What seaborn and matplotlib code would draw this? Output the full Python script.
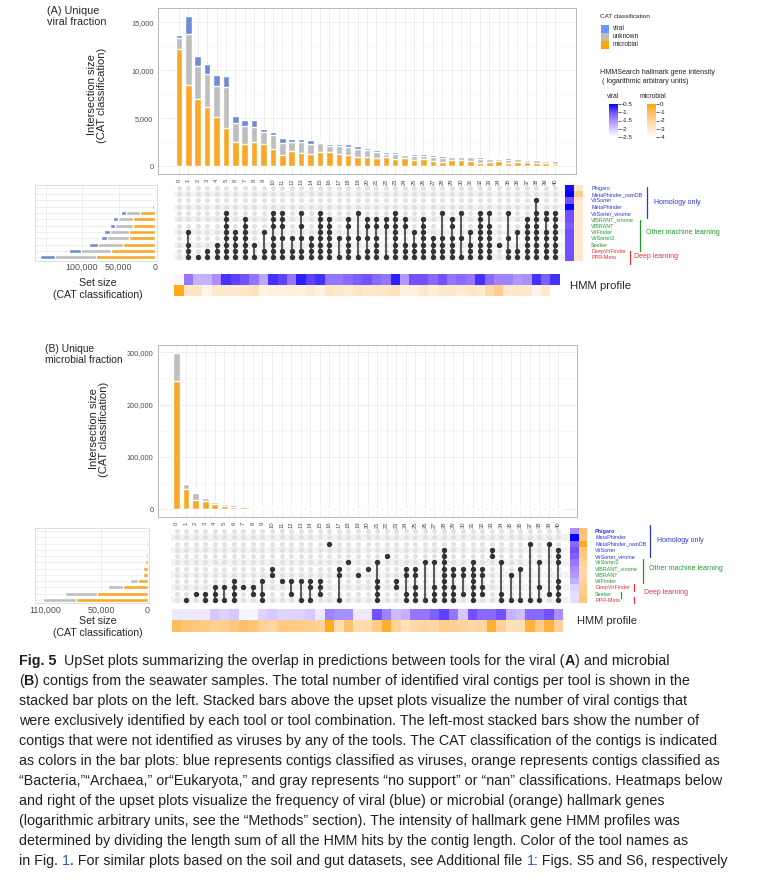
import matplotlib
matplotlib.use("Agg")
import matplotlib.pyplot as plt
import seaborn as sns
import numpy as np
import pandas as pd
from matplotlib import font_manager
from matplotlib.colors import LinearSegmentedColormap, Normalize
from matplotlib.cm import ScalarMappable
from matplotlib.patches import Rectangle
from matplotlib.lines import Line2D

# ---------------- data ----------------
intersections = list(range(41))

# Panel A: unique viral fraction (intersection sizes by CAT classification)
a_microbial = [12208, 8493, 7006, 6193, 5131, 3999, 2583, 2371, 2548, 2371, 1769, 1203, 1592, 1415,
               1345, 1451, 1451, 1345, 1168, 991, 1026, 885, 955, 814, 849, 708, 778, 566, 495, 672,
               672, 566, 389, 495, 531, 389, 460, 425, 318, 354, 283]
a_unknown = [1168, 5272, 3433, 3432, 3185, 4211, 1911, 1875, 1592, 1168, 1451, 1274, 920, 1168,
             955, 955, 672, 743, 849, 849, 637, 637, 390, 460, 319, 424, 354, 389, 425, 319,
             319, 389, 389, 283, 212, 319, 283, 212, 319, 212, 283]
a_viral = [248, 1911, 1061, 1061, 1167, 1167, 778, 566, 637, 353, 354, 495, 354, 283,
           495, 177, 248, 283, 283, 248, 248, 212, 141, 212, 177, 142, 142, 248, 212, 141,
           141, 177, 177, 142, 142, 141, 71, 141, 106, 142, 142]

tools_a = ["Phigaro", "MetaPhinder_ownDB", "VirSorter", "MetaPhinder", "VirSorter_virome",
           "VIBRANT_virome", "VIBRANT", "VirFinder", "VirSorter2", "Seeker", "DeepVirFinder", "PPR-Meta"]
groups_a = ["homology"] * 5 + ["ml"] * 5 + ["dl"] * 2
set_a_microbial = [300, 900, 800, 300, 21000, 29500, 30500, 35000, 35000, 43800, 60500, 81000]
set_a_unknown = [200, 100, 300, 800, 19000, 21400, 23800, 26700, 31400, 34300, 41400, 55700]
set_a_viral = [100, 100, 200, 2500, 6000, 7100, 7100, 8000, 8000, 12400, 15700, 20500]

a_members = [
    [], [7, 9, 10, 11], [11], [10, 11], [9, 10, 11], [4, 5, 6, 7, 8, 9, 10, 11], [7, 8, 9, 10, 11],
    [5, 6, 7, 8, 9, 10, 11], [9, 11], [7, 10, 11], [4, 5, 6, 8, 9, 10, 11], [4, 5, 6, 8, 10, 11],
    [8, 10, 11], [4, 6, 8, 10, 11], [8, 9, 10, 11], [4, 5, 6, 7, 8, 9, 10, 11], [5, 6, 7, 8, 9, 10, 11],
    [8, 11], [5, 6, 8, 9, 10, 11], [4, 8, 11], [5, 6, 8, 10, 11], [5, 6, 8, 9, 10, 11], [5, 6, 11],
    [4, 5, 6, 7, 8, 9, 10, 11], [5, 6, 9, 10, 11], [7, 9, 10, 11], [5, 6, 7, 8, 9, 10, 11],
    [8, 9, 10, 11], [4, 8, 9, 10, 11], [5, 6, 8, 9, 10, 11], [4, 8, 11], [7, 9, 10, 11],
    [4, 5, 6, 7, 8, 9, 10, 11], [4, 6, 7, 8, 9, 10, 11], [9], [4, 8, 10, 11], [7, 10, 11],
    [5, 6, 7, 8, 9, 10, 11], [2, 4, 5, 6, 7, 8, 9, 10, 11], [4, 5, 7, 8, 9, 10, 11],
    [4, 5, 6, 7, 8, 9, 10, 11]]

a_hmm_viral = [-2.4, -1.3, -1.8, -1.8, -1.5, -0.8, -0.9, -1.0, -1.3, -1.7, -0.8, -0.9, -1.3, -0.7,
               -0.9, -0.8, -1.3, -1.3, -1.2, -1.1, -1.0, -1.2, -1.3, -0.7, -1.6, -1.0, -1.0, -1.2,
               -1.0, -1.3, -1.2, -1.3, -0.8, -1.2, -1.4, -1.4, -1.6, -1.5, -0.8, -1.1, -0.8]
a_hmm_microbial = [-0.3, -2.8, -2.8, -3.5, -2.9, -3.0, -3.0, -2.9, -2.7, -3.5, -3.3, -3.3, -3.2, -3.3,
                   -3.1, -3.4, -2.8, -3.0, -3.1, -2.8, -3.0, -2.9, -2.8, -2.7, -3.4, -3.3, -2.9, -3.2,
                   -3.0, -2.9, -3.1, -2.9, -3.0, -2.3, -1.8, -3.0, -2.9, -3.0, -3.6, -3.0, -4.0]
a_tool_hmm_viral = [-0.6, -0.5, -1.0, -0.5, -1.0, -1.0, -1.1, -1.0, -1.0, -1.0, -1.0, -1.0]
a_tool_hmm_microbial = [-3.0, -1.8, -3.0, -3.0, -3.0, -3.0, -3.0, -3.0, -3.0, -3.0, -3.0, -3.0]

# Panel B: unique microbial fraction
b_microbial = [245000, 38000, 18000, 15000, 10000, 6500, 5000, 4000, 2500, 1800, 1600, 1500, 1300,
               1200, 1100, 1000, 900, 800, 700, 600, 550, 500, 480, 450, 420, 400, 380, 360, 340,
               320, 300, 280, 260, 240, 220, 200, 180, 160, 150, 140, 130]
b_unknown = [54000, 11000, 13000, 7000, 4500, 2500, 3000, 2000, 1500, 700, 500, 400, 400, 300,
             300, 250, 200, 200, 150, 150, 120, 100, 100, 90, 90, 80, 80, 70, 70, 60, 60, 50, 50,
             50, 40, 40, 40, 30, 30, 30, 30]
b_viral = [300, 50, 50, 50, 0, 0, 0, 0, 0, 0, 0, 0, 0, 0, 0, 0, 0, 0, 0, 0, 0, 0, 0, 0, 0, 0, 0,
           0, 0, 0, 0, 0, 0, 0, 0, 0, 0, 0, 0, 0, 0]

tools_b = ["Phigaro", "MetaPhinder", "MetaPhinder_ownDB", "VirSorter", "VirSorter_virome",
           "VirSorter2", "VIBRANT_virome", "VIBRANT", "VirFinder", "DeepVirFinder", "Seeker", "PPR-Meta"]
groups_b = ["homology"] * 5 + ["ml"] * 4 + ["dl", "ml", "dl"]
set_b_microbial = [140, 235, 1220, 940, 1880, 2820, 4420, 4420, 10700, 25900, 54000, 77100]
set_b_unknown = [47, 47, 280, 190, 380, 850, 1880, 1880, 8460, 16600, 34400, 35200]
set_b_viral = [0, 28, 0, 47, 47, 47, 47, 47, 94, 750, 1130, 1130]

b_members = [
    [], [11], [10], [10, 11], [9, 10, 11], [9, 11], [8, 9, 10, 11], [9], [9, 10], [8, 10, 11],
    [6, 7], [8], [8, 10], [8, 11], [8, 9, 11], [8, 9, 10], [2], [6, 7, 11], [5], [7], [6],
    [5, 8, 9, 10, 11], [4], [8, 9], [6, 7, 10, 11], [6, 7, 9, 10, 11], [5, 11], [5, 9, 10, 11],
    [3, 4, 5, 6, 7, 8, 9, 10, 11], [6, 7, 9, 10, 11], [6, 7, 10], [5, 6, 7, 8, 9, 10, 11],
    [6, 7, 9, 10], [3, 4], [5, 10, 11], [7, 11], [6, 11], [2, 11], [5, 9, 11], [2, 10],
    [3, 4, 5, 8, 9, 10, 11]]

b_hmm_viral = [-2.3, -2.3, -2.3, -2.3, -2.0, -2.1, -2.0, -2.4, -2.4, -2.1, -2.0, -2.1, -2.1, -2.1,
               -2.0, -2.3, -1.4, -1.5, -1.5, -2.3, -2.3, -1.0, -1.4, -1.9, -1.8, -1.3, -1.3, -1.1,
               -0.9, -1.3, -2.0, -1.0, -1.2, -1.2, -1.0, -1.8, -1.9, -1.2, -1.2, -1.0, -1.5]
b_hmm_microbial = [-1.0, -1.4, -1.5, -1.6, -1.9, -1.8, -1.5, -1.2, -1.4, -1.9, -2.2, -1.6, -1.6, -1.7,
                   -1.8, -2.0, -0.3, -2.4, -1.3, -2.4, -2.3, -1.7, -0.5, -2.0, -2.6, -2.2, -2.1, -2.2,
                   -1.8, -1.9, -2.0, -2.2, -2.1, -0.5, -1.9, -2.6, -2.5, -0.6, -1.7, -0.6, -1.9]
b_tool_hmm_viral = [-1.5, -0.5, -1.2, -1.0, -1.1, -1.3, -1.5, -1.6, -1.8, -2.1, -2.2, -2.2]
b_tool_hmm_microbial = [-1.2, -1.5, -0.3, -1.5, -1.6, -1.9, -2.2, -2.2, -2.0, -1.8, -1.6, -1.4]

cat_labels = ["viral", "unknown", "microbial"]
viral_ticks = [-0.5, -1, -1.5, -2, -2.5]
microbial_ticks = [0, -1, -2, -3, -4]

caption_lines = [
    [("Fig. 5", "b"), ("  UpSet plots summarizing the overlap in predictions between tools for the viral (", "n"),
     ("A", "b"), (") and microbial", "n")],
    [("(", "n"), ("B", "b"), (") contigs from the seawater samples. The total number of identified viral contigs per tool is shown in the", "n")],
    [("stacked bar plots on the left. Stacked bars above the upset plots visualize the number of viral contigs that", "n")],
    [("were exclusively identified by each tool or tool combination. The left-most stacked bars show the number of", "n")],
    [("contigs that were not identified as viruses by any of the tools. The CAT classification of the contigs is indicated", "n")],
    [("as colors in the bar plots: blue represents contigs classified as viruses, orange represents contigs classified as", "n")],
    [("\u201cBacteria,\u201d\u201cArchaea,\u201d or\u201cEukaryota,\u201d and gray represents \u201cno support\u201d or \u201cnan\u201d classifications. Heatmaps below", "n")],
    [("and right of the upset plots visualize the frequency of viral (blue) or microbial (orange) hallmark genes", "n")],
    [("(logarithmic arbitrary units, see the \u201cMethods\u201d section). The intensity of hallmark gene HMM profiles was", "n")],
    [("determined by dividing the length sum of all the HMM hits by the contig length. Color of the tool names as", "n")],
    [("in Fig. ", "n"), ("1", "link"), (". For similar plots based on the soil and gut datasets, see Additional file ", "n"),
     ("1", "link"), (": Figs. S5 and S6, respectively", "n")],
]

# ---------------- style ----------------
sns.set_theme(style="white")
plt.rcParams['font.family'] = ['Liberation Sans', 'DejaVu Sans']

C_VIR, C_UNK, C_MIC = "#6C8DD5", "#BEBEBE", "#F6A826"
L_VIR, L_UNK, L_MIC = "#6E93FF", "#BEBEBE", "#FFA500"
GRID = "#EBEBEB"
FRAME = "#B8B8B8"
TXT = "#4D4D4D"
GROUP_COL = {"homology": "#2B35D8", "ml": "#1E9A2A", "dl": "#E5323A"}

cmap_v = LinearSegmentedColormap.from_list("v", ["#FFFFFF", "#D6C8FF", "#A98EFF", "#7452FF", "#0000FF"])
cmap_m = LinearSegmentedColormap.from_list("m", ["#FFFFFF", "#FFE9CC", "#FFD39A", "#FFBC5E", "#FFA500"])
VMIN_V, VMAX_V = -2.5, -0.5
VMIN_M, VMAX_M = -4.0, 0.0

W, H = 762, 882
fig = plt.figure(figsize=(W / 100, H / 100), dpi=100)
fig.patch.set_facecolor("white")


def add_ax(x0, y0, x1, y1):
    return fig.add_axes([x0 / W, 1 - y1 / H, (x1 - x0) / W, (y1 - y0) / H])


def ftext(x, y, s, **kw):
    return fig.text(x / W, 1 - y / H, s, **kw)


def fline(x0, y0, x1, y1, **kw):
    fig.add_artist(Line2D([x0 / W, x1 / W], [1 - y0 / H, 1 - y1 / H], transform=fig.transFigure, **kw))


def bars(ax, micro, unk, vir, xl, ylim, yticks, ytlabels):
    df = pd.DataFrame({"col": intersections,
                       "total": np.array(micro) + np.array(unk) + np.array(vir),
                       "mu": np.array(micro) + np.array(unk),
                       "m": np.array(micro)})
    for key, col in (("total", C_VIR), ("mu", C_UNK), ("m", C_MIC)):
        sns.barplot(data=df, x="col", y=key, order=intersections, color=col, saturation=1,
                    width=0.7, errorbar=None, ax=ax, zorder=3)
    ax.set_xlim(*xl)
    ax.set_ylim(*ylim)
    ax.set_yticks(yticks)
    ax.set_yticklabels(ytlabels, fontsize=5.3, color=TXT)
    ax.set_yticks([(yticks[i] + yticks[i + 1]) / 2 for i in range(len(yticks) - 1)], minor=True)
    ax.set_xticks(intersections)
    ax.set_xticklabels([str(c) for c in intersections], rotation=90, fontsize=4.2, color=TXT)
    ax.set_axisbelow(True)
    ax.grid(True, which="major", color=GRID, lw=0.6)
    ax.grid(True, which="minor", axis="y", color="#F4F4F4", lw=0.4)
    ax.tick_params(axis="both", which="major", length=2, width=0.5, color=FRAME, pad=1.2)
    ax.tick_params(axis="y", which="minor", length=0)
    for s in ax.spines.values():
        s.set_color(FRAME)
        s.set_linewidth(0.7)
    ax.set_xlabel("")
    ax.set_ylabel("")


def matrix(ax, members, xl, stripe_frac):
    rows = []
    for c, mem in zip(intersections, members):
        for r in range(12):
            rows.append({"col": c, "row": r, "on": r in mem})
    df = pd.DataFrame(rows)
    for r in range(1, 12, 2):
        ax.axhspan(r - 0.5, r + 0.5, xmin=stripe_frac[0], xmax=stripe_frac[1], color="#F3F3F3", lw=0, zorder=0)
    sns.scatterplot(data=df[~df.on], x="col", y="row", color="#E2E2E2", s=13, linewidth=0, ax=ax,
                    legend=False, zorder=2)
    sns.scatterplot(data=df[df.on], x="col", y="row", color="#333333", s=15, linewidth=0, ax=ax,
                    legend=False, zorder=4)
    for c, mem in zip(intersections, members):
        if len(mem) > 1:
            ax.plot([c, c], [min(mem), max(mem)], color="#333333", lw=1.1, zorder=3,
                    solid_capstyle="butt")
    ax.set_xlim(*xl)
    ax.set_ylim(11.5, -0.5)
    ax.axis("off")


def setsize(ax, tools, micro, unk, vir, xl, ticks, tlabels):
    df = pd.DataFrame({"tool": tools,
                       "total": np.array(micro) + np.array(unk) + np.array(vir),
                       "mu": np.array(micro) + np.array(unk),
                       "m": np.array(micro)})
    for key, col in (("total", C_VIR), ("mu", C_UNK), ("m", C_MIC)):
        sns.barplot(data=df, y="tool", x=key, order=tools, orient="h", color=col, saturation=1,
                    width=0.66, errorbar=None, ax=ax, zorder=3)
    ax.set_xlim(*xl)
    ax.set_ylim(11.5, -0.5)
    ax.set_xticks(ticks)
    ax.set_xticklabels(tlabels, fontsize=6.4, color=TXT)
    ax.set_yticks(range(12))
    ax.set_yticklabels([])
    ax.set_axisbelow(True)
    ax.grid(True, color=GRID, lw=0.6)
    ax.tick_params(axis="x", length=0, pad=2)
    ax.tick_params(axis="y", length=0)
    for s in ax.spines.values():
        s.set_color("#DADADA")
        s.set_linewidth(0.6)
    ax.set_xlabel("")
    ax.set_ylabel("")


def heat_row(ax, vals, cmap, vmin, vmax, xl):
    sns.heatmap(np.array([vals]), cmap=cmap, vmin=vmin, vmax=vmax, cbar=False, ax=ax,
                xticklabels=False, yticklabels=False, linewidths=0)
    ax.set_xlim(xl[0] + 0.5, xl[1] + 0.5)
    ax.axis("off")


def heat_col(ax, vals, cmap, vmin, vmax):
    sns.heatmap(np.array(vals).reshape(-1, 1), cmap=cmap, vmin=vmin, vmax=vmax, cbar=False, ax=ax,
                xticklabels=False, yticklabels=False, linewidths=0)
    ax.axis("off")


LAB_FS = 8

# ================= Panel A =================
XL_A = (-2.23, 42.23)
ax = add_ax(158, 8, 576, 174)
bars(ax, a_microbial, a_unknown, a_viral, XL_A, (-784, 16460), [0, 5000, 10000, 15000],
     ["0", "5,000", "10,000", "15,000"])
ftext(47, 6, "(A) Unique\nviral fraction", fontsize=7.8, va="top", ha="left", linespacing=1.1)
ftext(97, 95, "Intersection size\n(CAT classification)", fontsize=LAB_FS, rotation=90, ha="center",
      va="center", multialignment="center", linespacing=1.1)

ax = add_ax(158, 184.5, 576, 260.5)
matrix(ax, a_members, XL_A, (0.038, 0.974))

ax = add_ax(35, 184.5, 157, 260.5)
setsize(ax, tools_a, set_a_microbial, set_a_unknown, set_a_viral, (164400, -2700),
        [0, 50000, 100000, 150000], ["0", "50,000", "100,000", ""])
ftext(98, 289, "Set size\n(CAT classification)", fontsize=7.6, ha="center", va="center",
      multialignment="center", linespacing=1.15)

ax = add_ax(565, 184.5, 574, 260.5)
heat_col(ax, a_tool_hmm_viral, cmap_v, VMIN_V, VMAX_V)
ax = add_ax(574, 184.5, 583, 260.5)
heat_col(ax, a_tool_hmm_microbial, cmap_m, VMIN_M, VMAX_M)

ax = add_ax(158, 274, 576, 285)
heat_row(ax, a_hmm_viral, cmap_v, VMIN_V, VMAX_V, XL_A)
ax = add_ax(158, 285, 576, 296)
heat_row(ax, a_hmm_microbial, cmap_m, VMIN_M, VMAX_M, XL_A)
ftext(570, 286, "HMM profile", fontsize=8.2, va="center", ha="left")

row_y_a = [184.5 + (i + 0.5) * (76 / 12) for i in range(12)]
for t, g, y in zip(tools_a, groups_a, row_y_a):
    ftext(591, y + 0.6, t, fontsize=3.9, color=GROUP_COL[g], va="center", ha="left")
fline(647, 187, 647, 218, color=GROUP_COL["homology"], lw=0.9)
ftext(654, 202, "Homology only", fontsize=5, color=GROUP_COL["homology"], va="center")
fline(640, 220, 640, 251, color=GROUP_COL["ml"], lw=0.9)
ftext(646, 233, "Other machine learning", fontsize=5, color=GROUP_COL["ml"], va="center")
fline(630, 251, 630, 264, color=GROUP_COL["dl"], lw=0.9)
ftext(634, 257, "Deep learning", fontsize=5, color=GROUP_COL["dl"], va="center")

# ---------- legend ----------
ftext(600, 17, "CAT classification", fontsize=4.6, color="#222222", va="center")
for i, (lab, col) in enumerate(zip(cat_labels, [L_VIR, L_UNK, L_MIC])):
    y0 = 25 + i * 8
    fig.add_artist(Rectangle((601 / W, 1 - (y0 + 8) / H), 8 / W, 8 / H, transform=fig.transFigure,
                             facecolor=col, edgecolor="none"))
    ftext(613, y0 + 4, lab, fontsize=4.7, color="#222222", va="center")
ftext(600, 77, "HMMSearch hallmark gene intensity\n ( logarithmic arbitrary units)", fontsize=5.1,
      color="#222222", va="center", linespacing=1.25)
ftext(607, 97, "viral", fontsize=4.8, color="#222222", va="center")
ftext(640, 97, "microbial", fontsize=4.8, color="#222222", va="center")
for (x0, cm, vmin, vmax, ticks) in ((609, cmap_v, VMIN_V, VMAX_V, viral_ticks),
                                    (647, cmap_m, VMIN_M, VMAX_M, microbial_ticks)):
    cax = add_ax(x0, 104, x0 + 9, 137)
    cb = fig.colorbar(ScalarMappable(Normalize(vmin, vmax), cm), cax=cax)
    cb.set_ticks(ticks)
    cb.set_ticklabels([("%g" % t) for t in ticks])
    cb.outline.set_visible(False)
    cax.tick_params(labelsize=4.5, length=2, width=0.5, pad=0.5, colors="#222222")

# ================= Panel B =================
XL_B = (-1.94, 41.94)
ax = add_ax(158, 345, 577, 517)
bars(ax, b_microbial, b_unknown, b_viral, XL_B, (-14950, 313950), [0, 100000, 200000, 300000],
     ["0", "100,000", "200,000", "300,000"])
ftext(45, 344, "(B) Unique\nmicrobial fraction", fontsize=7.4, va="top", ha="left", linespacing=1.12)
ftext(99, 429, "Intersection size\n(CAT classification)", fontsize=LAB_FS, rotation=90, ha="center",
      va="center", multialignment="center", linespacing=1.1)

ax = add_ax(158, 528, 577, 603)
matrix(ax, b_members, XL_B, (0.031, 0.98))

ax = add_ax(35, 528, 149, 603)
setsize(ax, tools_b, set_b_microbial, set_b_unknown, set_b_viral, (121000, -1600),
        [0, 50000, 110000], ["0", "50,000", "110,000"])
ftext(98, 627, "Set size\n(CAT classification)", fontsize=7.6, ha="center", va="center",
      multialignment="center", linespacing=1.15)

ax = add_ax(570, 528, 578.5, 603)
heat_col(ax, b_tool_hmm_viral, cmap_v, VMIN_V, VMAX_V)
ax = add_ax(578.5, 528, 587, 603)
heat_col(ax, b_tool_hmm_microbial, cmap_m, VMIN_M, VMAX_M)

ax = add_ax(158, 608.5, 577, 620)
heat_row(ax, b_hmm_viral, cmap_v, VMIN_V, VMAX_V, XL_B)
ax = add_ax(158, 620, 577, 631.5)
heat_row(ax, b_hmm_microbial, cmap_m, VMIN_M, VMAX_M, XL_B)
ftext(577, 621, "HMM profile", fontsize=8, va="center", ha="left")

row_y_b = [528 + (i + 0.5) * (75 / 12) for i in range(12)]
for t, g, y in zip(tools_b, groups_b, row_y_b):
    ftext(595, y + 0.6, t, fontsize=3.9, color=GROUP_COL[g], va="center", ha="left",
          fontweight="bold" if t == "Phigaro" else "normal")
fline(650, 525, 650, 557, color=GROUP_COL["homology"], lw=0.9)
ftext(657, 541, "Homology only", fontsize=5, color=GROUP_COL["homology"], va="center")
fline(643, 559, 643, 583, color=GROUP_COL["ml"], lw=0.9)
ftext(649, 569, "Other machine learning", fontsize=5, color=GROUP_COL["ml"], va="center")
fline(634, 584, 634, 591, color=GROUP_COL["dl"], lw=0.9)
fline(634, 597, 634, 603, color=GROUP_COL["dl"], lw=0.9)
fline(621, 592, 621, 598, color=GROUP_COL["ml"], lw=0.9)
ftext(644, 593, "Deep learning", fontsize=5, color=GROUP_COL["dl"], va="center")

# ================= Caption =================
def has_font(name):
    try:
        font_manager.findfont(font_manager.FontProperties(family=name), fallback_to_default=False)
        return True
    except Exception:
        return False

cap_family = ["Liberation Sans Narrow", "DejaVu Sans"] if has_font("Liberation Sans Narrow") \
    else ["Liberation Sans", "DejaVu Sans"]
renderer = fig.canvas.get_renderer()
probe = ftext(0, 0, "".join(s for s, _ in caption_lines[4]), fontsize=10, family=cap_family)
pw = probe.get_window_extent(renderer).width
probe.remove()
cap_fs = 10 * 694 / pw
CAP_COL = "#231F20"
LINK_COL = "#2A5DB0"


def seg_width(s, fs, weight):
    a = ftext(0, 0, s + "|", fontsize=fs, family=cap_family, fontweight=weight)
    b = ftext(0, 0, "|", fontsize=fs, family=cap_family, fontweight=weight)
    w = a.get_window_extent(renderer).width - b.get_window_extent(renderer).width
    a.remove()
    b.remove()
    return w


for i, segs in enumerate(caption_lines):
    x = 19
    y = 665 + 20 * i
    for s, kind in segs:
        weight = "bold" if kind == "b" else "normal"
        col = LINK_COL if kind == "link" else CAP_COL
        ftext(x, y, s, fontsize=cap_fs, family=cap_family, fontweight=weight, color=col,
              va="baseline", ha="left")
        x += seg_width(s, cap_fs, weight)

fig.savefig("out.png", dpi=100, facecolor="white")
